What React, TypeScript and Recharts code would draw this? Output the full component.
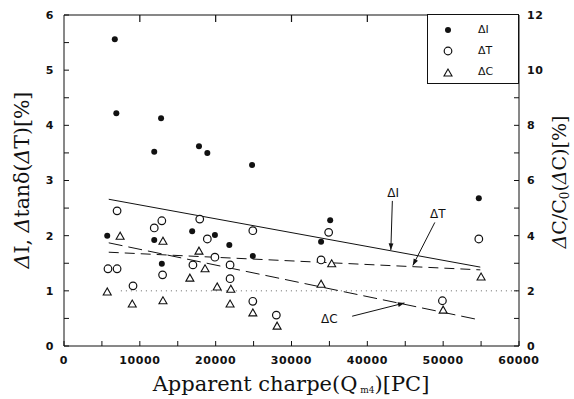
import React from 'react';
import {
  ComposedChart,
  Scatter,
  Line,
  XAxis,
  YAxis,
  Legend,
  ReferenceLine,
  ReferenceDot,
} from 'recharts';

// measured points, left axis (%) for dI and dT, right axis (%) for dC
const deltaI = [
  { x: 6700, y: 5.56 }, { x: 6900, y: 4.22 }, { x: 12800, y: 4.13 }, { x: 11900, y: 3.52 },
  { x: 17800, y: 3.62 }, { x: 18900, y: 3.5 }, { x: 24800, y: 3.28 }, { x: 5700, y: 2.0 },
  { x: 11900, y: 1.92 }, { x: 12900, y: 1.49 }, { x: 16900, y: 2.08 }, { x: 19900, y: 2.01 },
  { x: 21800, y: 1.83 }, { x: 24900, y: 1.63 }, { x: 35100, y: 2.28 }, { x: 33900, y: 1.89 },
  { x: 54700, y: 2.68 },
];

const deltaT = [
  { x: 7000, y: 2.45 }, { x: 5800, y: 1.4 }, { x: 7000, y: 1.4 }, { x: 9100, y: 1.09 },
  { x: 11900, y: 2.14 }, { x: 12900, y: 2.27 }, { x: 13000, y: 1.29 }, { x: 17000, y: 1.47 },
  { x: 17900, y: 2.3 }, { x: 18900, y: 1.94 }, { x: 19900, y: 1.61 }, { x: 21900, y: 1.47 },
  { x: 21900, y: 1.22 }, { x: 24900, y: 2.09 }, { x: 24900, y: 0.81 }, { x: 28000, y: 0.56 },
  { x: 34900, y: 2.06 }, { x: 33900, y: 1.56 }, { x: 49900, y: 0.82 }, { x: 54700, y: 1.94 },
];

const deltaC = [
  { x: 5700, y: 1.96 }, { x: 7400, y: 3.98 }, { x: 9000, y: 1.52 }, { x: 13050, y: 3.8 },
  { x: 13050, y: 1.64 }, { x: 16600, y: 2.46 }, { x: 17800, y: 3.44 }, { x: 18600, y: 2.8 },
  { x: 20200, y: 2.14 }, { x: 22000, y: 2.06 }, { x: 21900, y: 1.52 }, { x: 24900, y: 1.2 },
  { x: 28100, y: 0.72 }, { x: 35300, y: 2.98 }, { x: 33900, y: 2.24 }, { x: 50000, y: 1.3 },
  { x: 55000, y: 2.5 },
];

// fitted trend lines
const fitI = [{ x: 5900, y: 2.66 }, { x: 54900, y: 1.43 }];
const fitT = [{ x: 5900, y: 1.7 }, { x: 54900, y: 1.38 }];
const fitC = [{ x: 5900, y: 3.74 }, { x: 54900, y: 0.94 }];

const xTicks = [0, 5000, 10000, 15000, 20000, 25000, 30000, 35000, 40000, 45000, 50000, 55000, 60000];
const topTicks = [10000, 20000, 30000, 40000];
const leftTicks = [0, 0.5, 1, 1.5, 2, 2.5, 3, 3.5, 4, 4.5, 5, 5.5, 6];
const rightTicks = [0, 1, 2, 3, 4, 5, 6, 7, 8, 9, 10, 11, 12];

const legendItems = [
  { key: 'I', label: 'ΔI' },
  { key: 'T', label: 'ΔT' },
  { key: 'C', label: 'ΔC' },
];

// annotation text + arrow (left-axis units)
const notes = [
  { text: 'ΔI', tx: 43400, ty: 2.78, x1: 43300, y1: 2.63, x2: 43100, y2: 1.74 },
  { text: 'ΔT', tx: 49300, ty: 2.4, x1: 48900, y1: 2.24, x2: 46000, y2: 1.46 },
  { text: 'ΔC', tx: 35000, ty: 0.5, x1: 38000, y1: 0.54, x2: 44900, y2: 0.78 },
];

const W = 574;
const H = 399;
const LEFT_W = 64;
const RIGHT_W = 55;
const X_MAX = 60000;

const INK = '#111';
const serif = '"DejaVu Serif", "Liberation Serif", serif';
const sans = '"DejaVu Sans", "Liberation Sans", sans-serif';

const Dot = (p: any) => <circle cx={p.cx} cy={p.cy} r={3} fill={INK} />;
const Ring = (p: any) => <circle cx={p.cx} cy={p.cy} r={3.8} fill="#fff" stroke={INK} strokeWidth={1.2} />;
const Tri = (p: any) => (
  <polygon
    points={`${p.cx},${p.cy - 4} ${p.cx - 4},${p.cy + 3} ${p.cx + 4},${p.cy + 3}`}
    fill="#fff"
    stroke={INK}
    strokeWidth={1.1}
  />
);

const Arrow = (p: any) => {
  const { x1, y1, x2, y2 } = p;
  const a = Math.atan2(y2 - y1, x2 - x1);
  const L = 7;
  const w = 0.35;
  const pA = `${x2 - L * Math.cos(a - w)},${y2 - L * Math.sin(a - w)}`;
  const pB = `${x2 - L * Math.cos(a + w)},${y2 - L * Math.sin(a + w)}`;
  return (
    <g>
      <line x1={x1} y1={y1} x2={x2} y2={y2} stroke={INK} strokeWidth={1} />
      <polygon points={`${x2},${y2} ${pA} ${pB}`} fill={INK} />
    </g>
  );
};

const LegendBox = () => (
  <div
    style={{
      width: 92,
      height: 70,
      boxSizing: 'border-box',
      border: `1px solid ${INK}`,
      background: '#fff',
      fontFamily: sans,
      fontSize: 11,
      color: INK,
      padding: '4px 0 0 0',
    }}
  >
    {legendItems.map((it) => (
      <div key={it.key} style={{ display: 'flex', alignItems: 'center', height: 21 }}>
        <svg width={40} height={12}>
          {it.key === 'I' && <Dot cx={20} cy={6} />}
          {it.key === 'T' && <Ring cx={20} cy={6} />}
          {it.key === 'C' && <Tri cx={20} cy={7} />}
        </svg>
        <span style={{ marginLeft: 10 }}>{it.label}</span>
      </div>
    ))}
  </div>
);

const tickStyle = { fontSize: 11, fontFamily: sans, fontWeight: 'bold', fill: INK, letterSpacing: 0.6 };

// left title; also closes the plot frame along the top edge (with inward ticks)
const LeftTitle = (p: any) => {
  const vb = p.viewBox || {};
  const top = vb.y ?? 15;
  const x0 = (vb.x ?? 0) + (vb.width ?? LEFT_W);
  const pw = W - x0 - RIGHT_W;
  return (
    <g>
      <line x1={x0} y1={top} x2={x0 + pw} y2={top} stroke={INK} strokeWidth={1.2} />
      {topTicks.map((t) => {
        const tx = x0 + (t / X_MAX) * pw;
        return <line key={t} x1={tx} y1={top} x2={tx} y2={top + 7} stroke={INK} strokeWidth={1.2} />;
      })}
      <text
        transform="translate(29,180) rotate(-90)"
        textAnchor="middle"
        fontFamily={serif}
        fontSize={20.5}
        fill={INK}
      >
        <tspan fontStyle="italic">Δ</tspan>I,{'  '}
        <tspan fontStyle="italic">Δ</tspan>tanδ(<tspan fontStyle="italic">Δ</tspan>T)[%]
      </text>
    </g>
  );
};

const RightTitle = () => (
  <text
    transform="translate(566,182) rotate(-90)"
    textAnchor="middle"
    fontFamily={serif}
    fontSize={19}
    fill={INK}
  >
    <tspan fontStyle="italic">Δ</tspan>C/C
    <tspan fontSize={12} dy={3}>0</tspan>
    <tspan dy={-3}>(</tspan>
    <tspan fontStyle="italic">Δ</tspan>C)[%]
  </text>
);

const BottomTitle = () => (
  <text x={291} y={391} textAnchor="middle" fontFamily={serif} fontSize={21} fill={INK}>
    Apparent charpe(Q
    <tspan fontSize={9} dy={2}> m4</tspan>
    <tspan dy={-2}>)[PC]</tspan>
  </text>
);

export default function App() {
  return (
    <div style={{ position: 'absolute', left: 0, top: 0, background: '#fff' }}>
      <ComposedChart width={W} height={H} margin={{ top: 15, right: 0, bottom: 0, left: 0 }}>
        <XAxis
          xAxisId="b"
          dataKey="x"
          type="number"
          domain={[0, X_MAX]}
          ticks={xTicks}
          interval={0}
          height={53}
          stroke={INK}
          tickSize={-5}
          tickMargin={15}
          tick={tickStyle}
          tickFormatter={(v: number) => (v % 10000 === 0 ? String(v) : '')}
          label={<BottomTitle />}
        />
        <YAxis
          yAxisId="l"
          dataKey="y"
          type="number"
          domain={[0, 6]}
          ticks={leftTicks}
          interval={0}
          width={LEFT_W}
          stroke={INK}
          tickSize={-5}
          tickMargin={15}
          tick={tickStyle}
          tickFormatter={(v: number) => (Number.isInteger(v) ? String(v) : '')}
          label={<LeftTitle />}
        />
        <YAxis
          yAxisId="r"
          orientation="right"
          dataKey="y"
          type="number"
          domain={[0, 12]}
          ticks={rightTicks}
          interval={0}
          width={RIGHT_W}
          stroke={INK}
          tickSize={-5}
          tickMargin={13}
          tick={tickStyle}
          tickFormatter={(v: number) => (v % 2 === 0 ? String(v) : '')}
          label={<RightTitle />}
        />

        <ReferenceLine
          xAxisId="b"
          yAxisId="l"
          segment={[{ x: 7500, y: 1 }, { x: 60000, y: 1 }]}
          stroke="#666"
          strokeDasharray="1 4"
        />

        <Line xAxisId="b" yAxisId="l" data={fitI} dataKey="y" stroke={INK} strokeWidth={1} dot={false} isAnimationActive={false} legendType="none" />
        <Line xAxisId="b" yAxisId="l" data={fitT} dataKey="y" stroke={INK} strokeWidth={1} strokeDasharray="10 6" dot={false} isAnimationActive={false} legendType="none" />
        <Line xAxisId="b" yAxisId="r" data={fitC} dataKey="y" stroke={INK} strokeWidth={1} strokeDasharray="14 6" dot={false} isAnimationActive={false} legendType="none" />

        <Scatter xAxisId="b" yAxisId="l" name="ΔI" data={deltaI} dataKey="y" shape={Dot} isAnimationActive={false} />
        <Scatter xAxisId="b" yAxisId="l" name="ΔT" data={deltaT} dataKey="y" shape={Ring} isAnimationActive={false} />
        <Scatter xAxisId="b" yAxisId="r" name="ΔC" data={deltaC} dataKey="y" shape={Tri} isAnimationActive={false} />

        {notes.map((n) => (
          <ReferenceLine
            key={n.text + 'a'}
            xAxisId="b"
            yAxisId="l"
            segment={[{ x: n.x1, y: n.y1 }, { x: n.x2, y: n.y2 }]}
            shape={Arrow}
          />
        ))}
        {notes.map((n) => (
          <ReferenceDot
            key={n.text + 't'}
            xAxisId="b"
            yAxisId="l"
            x={n.tx}
            y={n.ty}
            r={0}
            stroke="none"
            fill="none"
            label={{ value: n.text, position: 'center', fontSize: 12, fontFamily: sans, fill: INK }}
          />
        ))}

        <Legend
          layout="horizontal"
          verticalAlign="middle"
          align="center"
          content={<LegendBox />}
          wrapperStyle={{ top: 14, left: 427, width: 92, height: 70 }}
        />
      </ComposedChart>
    </div>
  );
}
